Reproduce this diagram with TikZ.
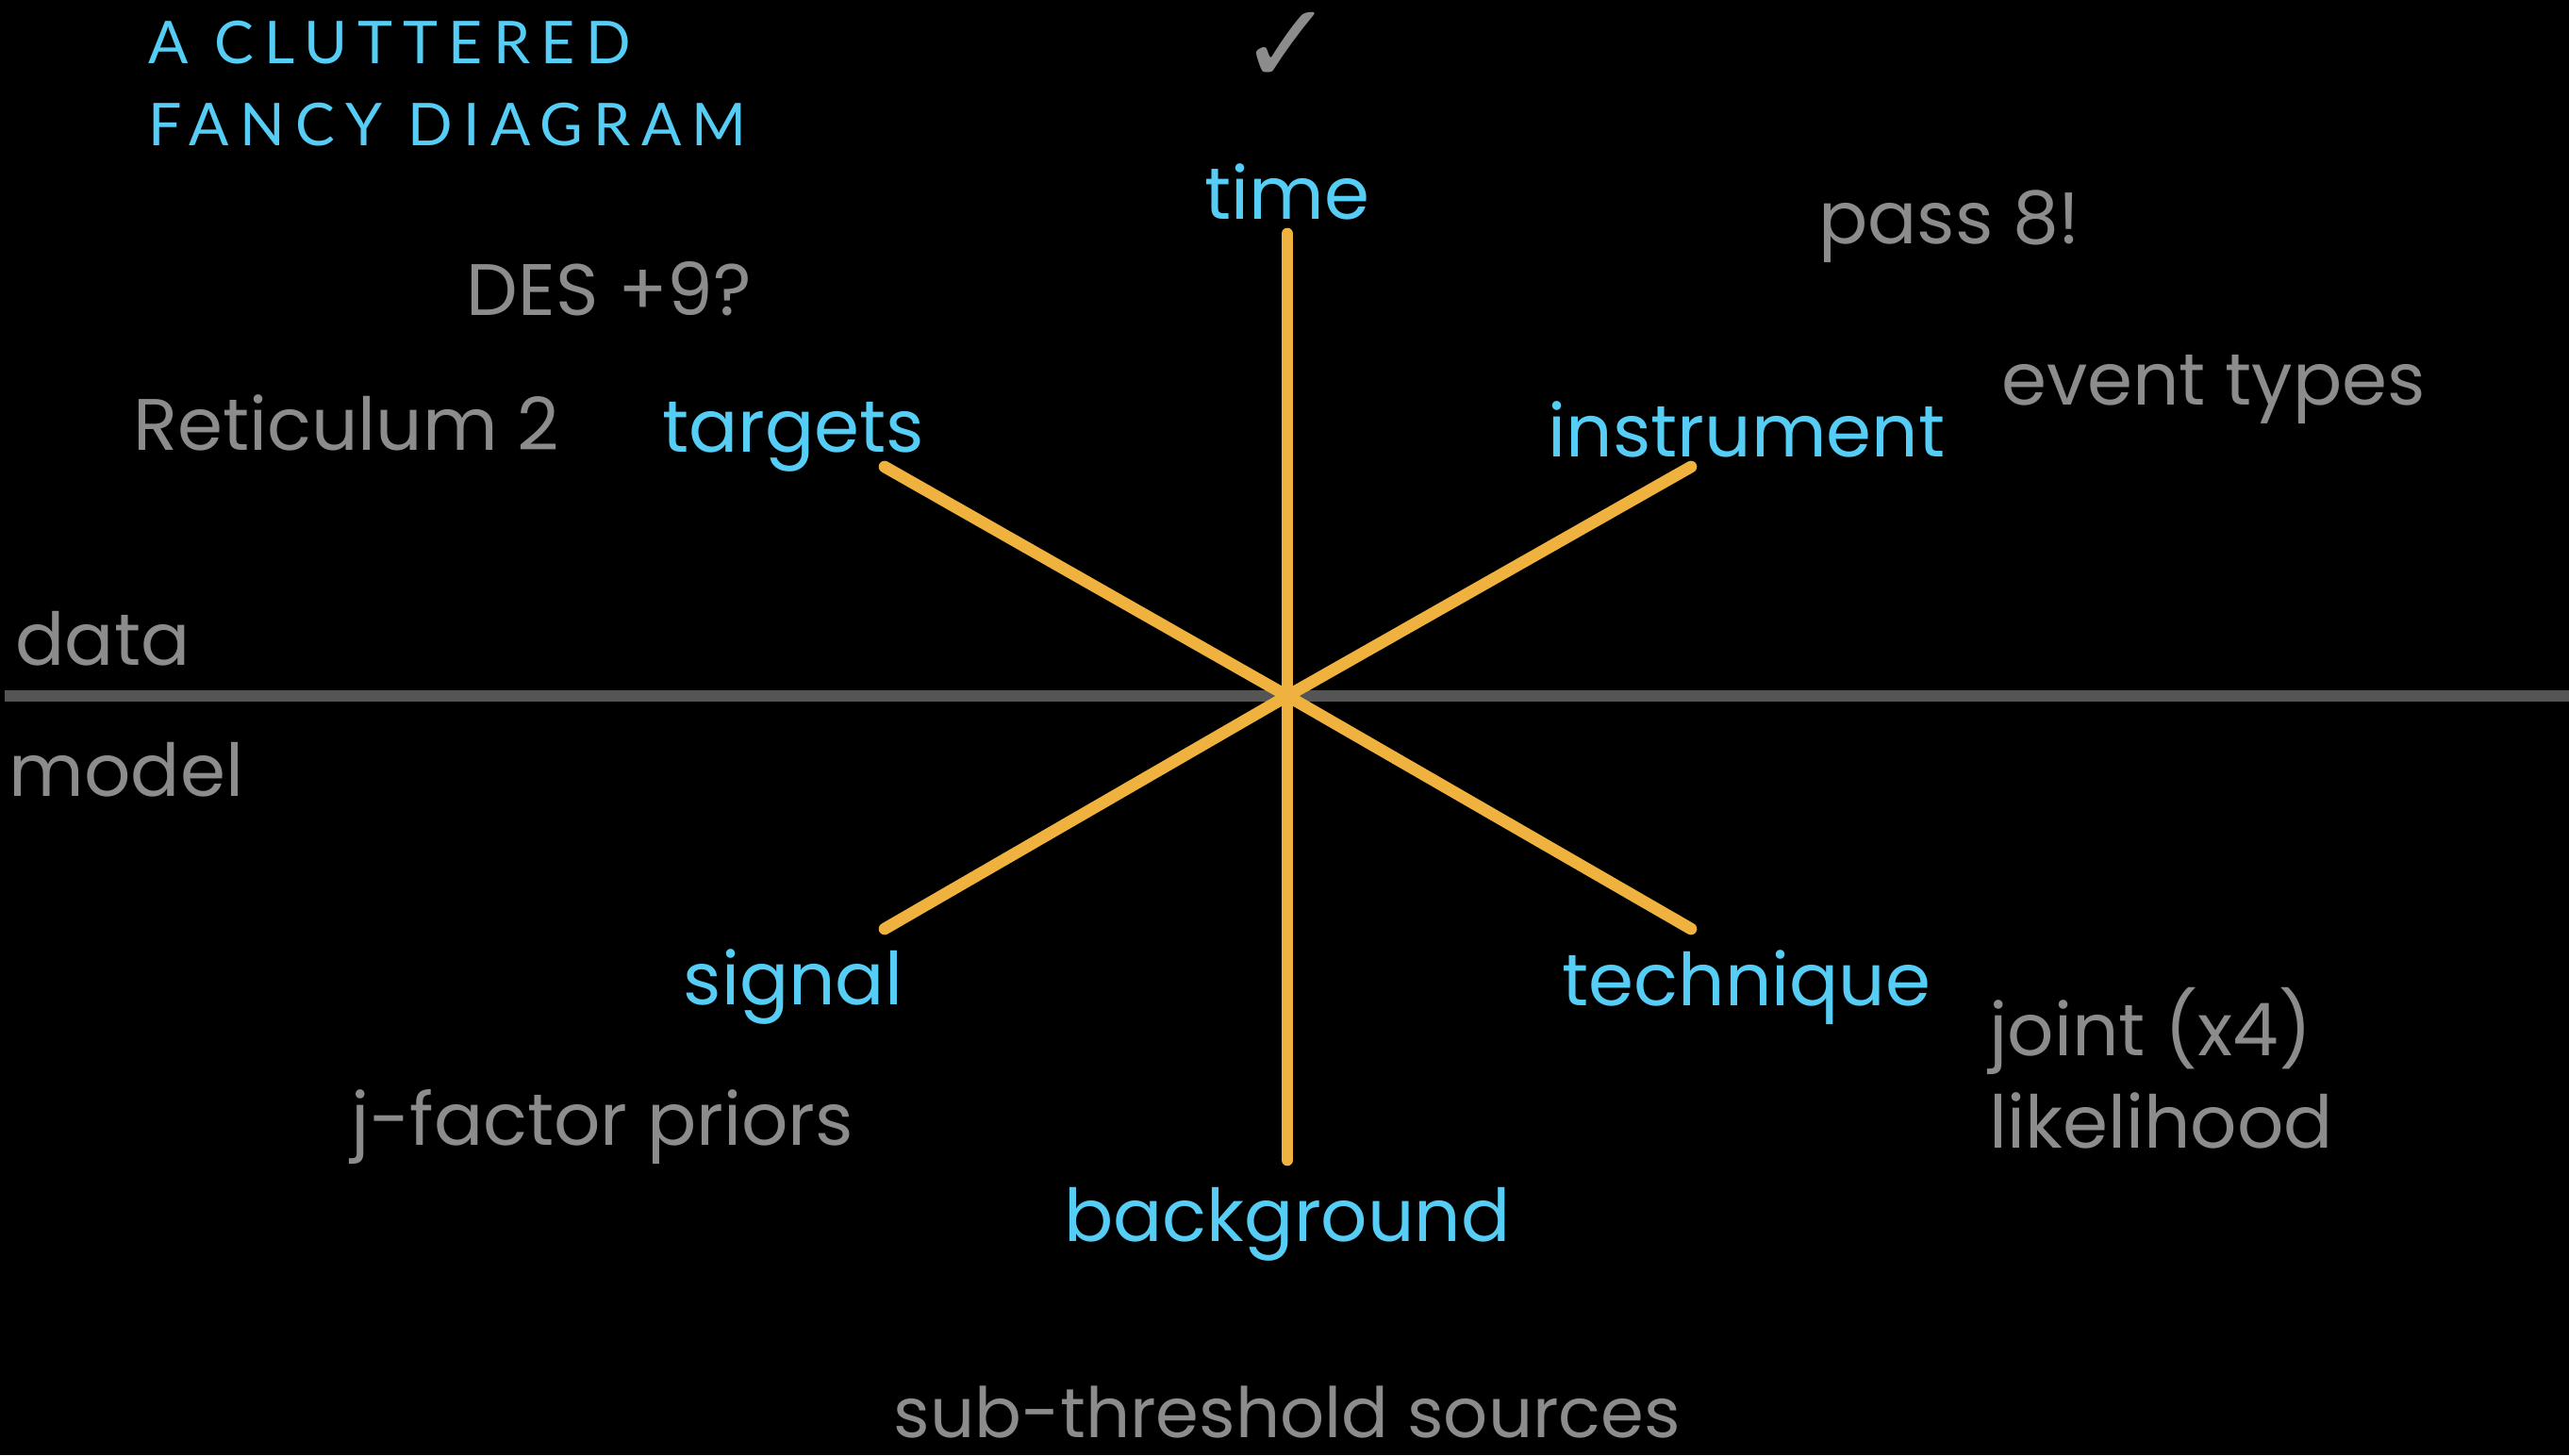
\documentclass[tikz,border=0pt]{standalone}
\usepackage{fontspec}
\usepackage{tikz}
\newfontfamily\chalkfont{Poppins}
\newfontfamily\titlefont{Lato}[LetterSpace=18]
\newfontfamily\symfont{DejaVu Sans}
\definecolor{chalkblue}{RGB}{85,205,245}
\definecolor{chalkorange}{RGB}{240,178,62}
\definecolor{chalkgray}{RGB}{140,140,140}
\definecolor{linegray}{RGB}{85,85,85}
\tikzstyle{heading} = [text=chalkblue, inner sep=0pt, anchor=base west, font=\titlefont\fontsize{17.8}{21}\selectfont]
\tikzstyle{axislabel} = [text=chalkblue, font=\chalkfont\fontsize{22}{28}\selectfont]
\tikzstyle{note} = [text=chalkgray, font=\chalkfont\fontsize{22}{28}\selectfont]
\tikzstyle{spoke} = [chalkorange, line width=3.6pt, line cap=round]
\tikzstyle{divider} = [linegray, line width=3.4pt]

\begin{document}
\begin{tikzpicture}
\fill[black] (0,0) rectangle (27.24,15.43);
\useasboundingbox (0,0) rectangle (27.24,15.43);

    \node[heading] (head1) at (1.57,14.75) {A CLUTTERED};
    \node[heading] (head2) at (1.57,13.88) {FANCY DIAGRAM};
    \node[text=chalkgray, font=\symfont\fontsize{34}{36}\selectfont] (check) at (13.65,14.92) {✓};

	% data / model split
	\coordinate (west) at (0.05,8.05);
	\coordinate (east) at (27.24,8.05);
	\draw[divider] (west) -- (east);

	% six spokes
	\coordinate (hub) at (13.65,8.05);
	\coordinate (up) at (13.65,12.95);
	\coordinate (down) at (13.65,3.13);
	\coordinate (upleft) at (9.38,10.48);
	\coordinate (upright) at (17.93,10.48);
	\coordinate (downleft) at (9.38,5.58);
	\coordinate (downright) at (17.93,5.58);
	\draw[spoke] (hub) -- (up);
	\draw[spoke] (hub) -- (down);
	\draw[spoke] (hub) -- (upleft);
	\draw[spoke] (hub) -- (upright);
	\draw[spoke] (hub) -- (downleft);
	\draw[spoke] (hub) -- (downright);

    \node[axislabel] (time) at (13.65,13.40) {time};
    \node[axislabel] (targets) at (8.41,10.80) {targets};
    \node[axislabel] (instrument) at (18.52,10.88) {instrument};
    \node[axislabel] (signal) at (8.41,4.96) {signal};
    \node[axislabel] (technique) at (18.52,4.96) {technique};
    \node[axislabel] (background) at (13.65,2.45) {background};

    \node[note] (data) at (1.09,8.66) {data};
    \node[note] (model) at (1.34,7.27) {model};
    \node[note] (des) at (6.46,12.37) {DES +9?};
    \node[note] (ret) at (3.67,10.95) {Reticulum 2};
    \node[note] (pass) at (20.67,13.03) {pass 8!};
    \node[note] (evtypes) at (23.47,11.30) {event types};
    \node[note, align=left, anchor=west] (joint) at (20.97,4.10) {joint (x4)\\likelihood};
    \node[note] (jfactor) at (6.39,3.48) {j-factor priors};
    \node[note, inner sep=0pt, anchor=south, font=\chalkfont\fontsize{21}{26}\selectfont] (subthr) at (13.65,0.17) {sub-threshold sources};
\end{tikzpicture}
\end{document}
